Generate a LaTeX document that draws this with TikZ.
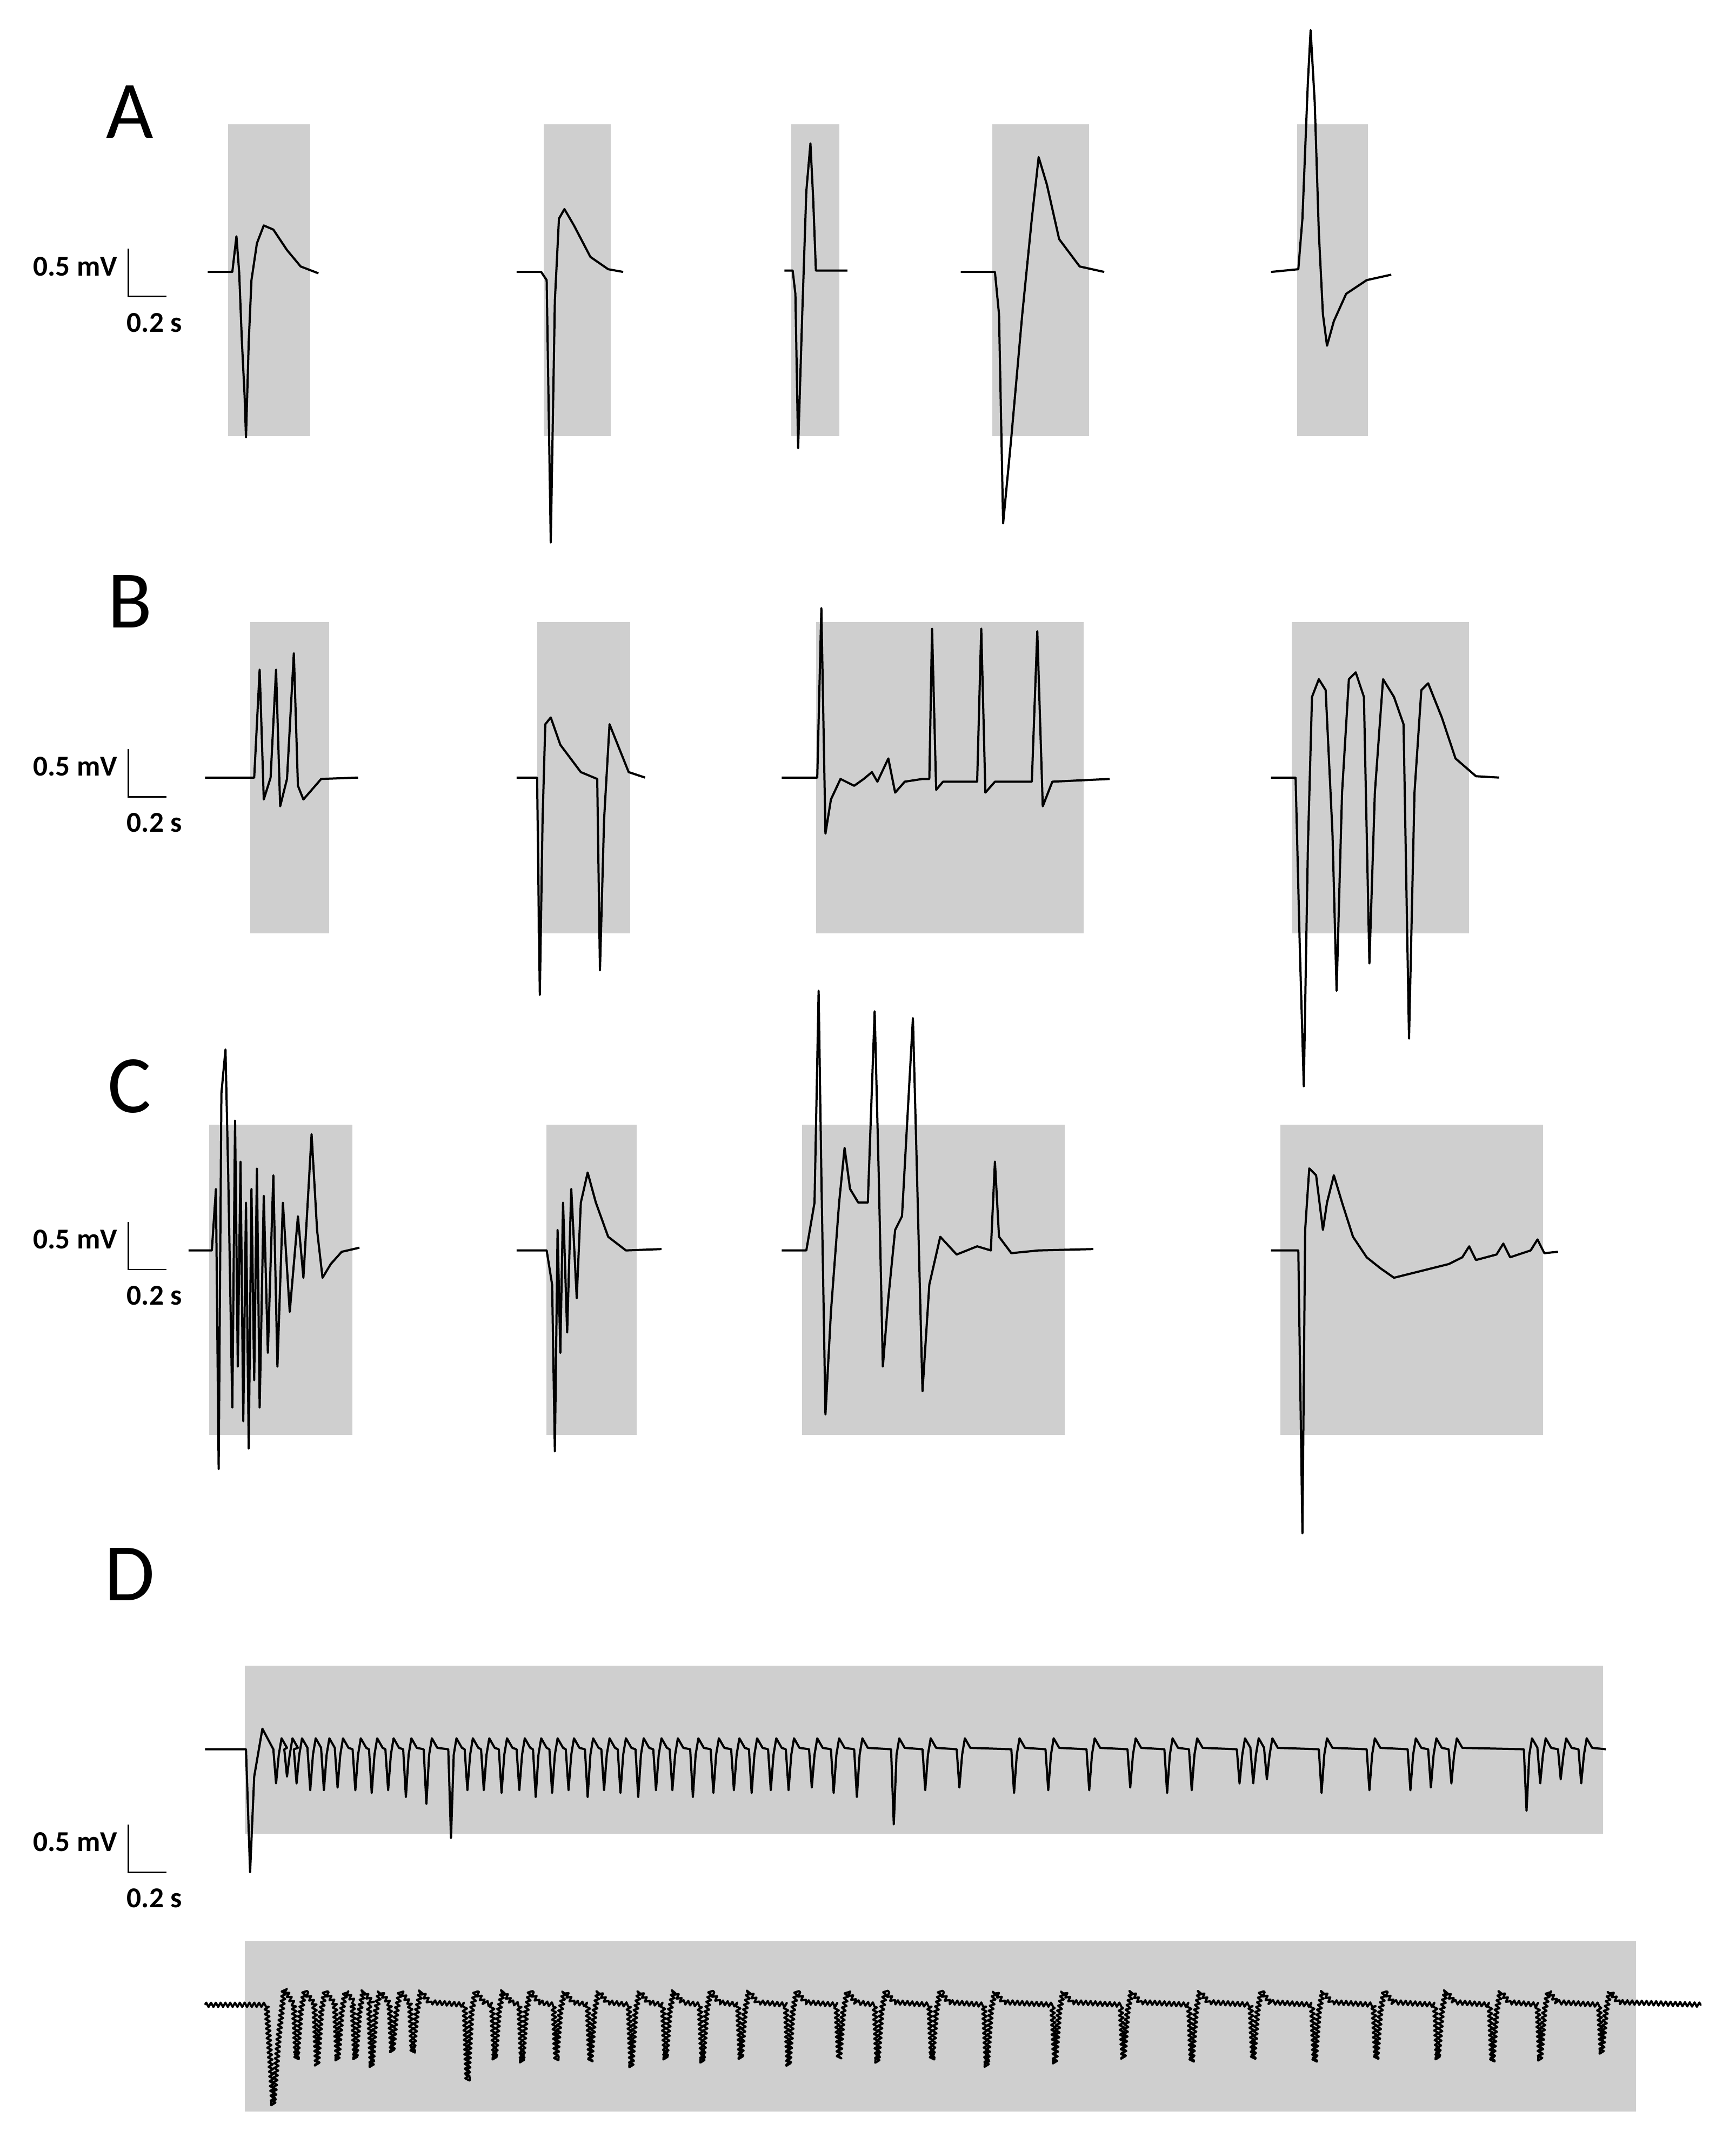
\documentclass[tikz,border=0pt]{standalone}
\usepackage{fontspec}
\setmainfont{Carlito}
\usetikzlibrary{decorations.pathmorphing}
\begin{document}
\begin{tikzpicture}[x=0.02cm,y=-0.02cm,
  trace/.style={black,line width=0.9pt,line join=round},
  noisy/.style={trace,decorate,decoration={zigzag,amplitude=0.9pt,segment length=2pt}},
  box/.style={fill=black!19,draw=none},
  panel/.style={font=\fontsize{34}{34}\selectfont,anchor=center},
  sb/.style={black,line width=0.6pt},
  sbl/.style={font=\bfseries\fontsize{12}{12}\selectfont}]
\useasboundingbox (0,0) rectangle (1270,1574);
\foreach \a/\b/\c/\d in {167/91/227/319,398/91/447/319,579/91/614/319,726/91/797/319,949/91/1001/319,
 183/455/241/683,393/455/461/683,597/455/793/683,945/455/1075/683,
 153/823/258/1050,400/823/466/1050,587/823/779/1050,937/823/1129/1050,
 179/1219/1173/1342,179/1420/1197/1545}
 \fill[box] (\a,\b) rectangle (\c,\d);
\node[panel] (lA) at (95,82) {A};
\node[panel] (lB) at (95,440) {B};
\node[panel] (lC) at (95,795) {C};
\node[panel] (lD) at (95,1152) {D};
\foreach \n/\y in {a/217,b/583,c/929,d/1370}{
 \draw[sb] (94,\y-35) -- (94,\y) -- (122,\y);
 \node[sbl,anchor=east] (mv\n) at (92,\y-22) {0.5 mV};
 \node[sbl] (s\n) at (113,\y+19) {0.2 s};
}
\draw[trace] (152,199)--(170,199)--(173,173)--(175,199)--(177,250)--(179,290)--(180,320)--(182,250)--(184,205)--(188,178)--(193,165)--(200,168)--(210,183)--(220,195)--(233,200);
\draw[trace] (378,199)--(396,199)--(400,205)--(403,397)--(406,220)--(409,160)--(413,153)--(420,165)--(432,188)--(445,197)--(456,199);
\draw[trace] (574,198)--(580,198)--(582,215)--(584,328)--(587,230)--(590,140)--(593,105)--(595,145)--(597,198)--(610,198)--(620,198);
\draw[trace] (703,199)--(728,199)--(731,230)--(734,383)--(740,320)--(748,230)--(755,160)--(760,115)--(766,135)--(775,175)--(790,195)--(808,199);
\draw[trace] (930,199)--(950,197)--(953,160)--(957,60)--(959,22)--(962,75)--(965,170)--(968,230)--(971,253)--(976,235)--(985,215)--(1000,205)--(1018,201);
\draw[trace] (150,569)--(186,569)--(190,490)--(193,585)--(198,569)--(202,490)--(205,590)--(210,570)--(215,478)--(218,575)--(222,585)--(235,570)--(262,569);
\draw[trace] (378,569)--(393,569)--(395,728)--(397,600)--(399,530)--(403,525)--(410,545)--(425,565)--(437,570)--(439,710)--(442,600)--(446,530)--(452,545)--(460,565)--(472,569);
\draw[trace] (572,569)--(598,569)--(601,445)--(604,610)--(608,585)--(615,570)--(625,575)--(632,570)--(638,565)--(642,572)--(650,555)--(655,580)--(662,572)--(675,570)--(680,570)--(682,460)--(685,578)--(690,572)--(715,572)--(718,460)--(721,580)--(728,572)--(755,572)--(759,462)--(763,590)--(770,572)--(812,570);
\draw[trace] (930,569)--(948,569)--(951,690)--(954,795)--(957,620)--(960,510)--(965,497)--(970,505)--(975,610)--(978,725)--(982,580)--(987,497)--(992,492)--(998,510)--(1002,705)--(1006,580)--(1012,497)--(1020,510)--(1027,530)--(1031,760)--(1035,580)--(1040,505)--(1045,500)--(1055,525)--(1065,555)--(1080,568)--(1097,569);
\draw[trace] (138,915)--(155,915)--(158,870)--(160,1075)--(162,800)--(165,768)--(167,860)--(170,1030)--(172,820)--(174,1000)--(176,850)--(178,1040)--(180,880)--(182,1060)--(184,870)--(186,1010)--(188,855)--(190,1030)--(193,875)--(196,990)--(200,860)--(203,1000)--(207,880)--(212,960)--(218,890)--(222,935)--(228,830)--(232,900)--(236,935)--(242,925)--(250,916)--(263,913);
\draw[trace] (378,915)--(400,915)--(404,940)--(406,1062)--(408,900)--(410,990)--(412,880)--(415,975)--(418,870)--(422,950)--(425,880)--(430,858)--(436,880)--(445,905)--(458,915)--(484,914);
\draw[trace] (572,915)--(590,915)--(596,880)--(599,725)--(601,860)--(604,1035)--(608,960)--(614,880)--(618,840)--(622,870)--(628,880)--(635,880)--(640,740)--(643,860)--(646,1000)--(650,950)--(655,900)--(660,890)--(668,745)--(671,860)--(675,1018)--(680,940)--(688,905)--(700,918)--(715,912)--(725,915)--(728,850)--(731,905)--(740,917)--(760,915)--(800,914);
\draw[trace] (930,915)--(950,915)--(953,1122)--(955,900)--(958,855)--(963,860)--(968,900)--(971,880)--(976,860)--(982,880)--(990,905)--(1000,920)--(1010,928)--(1020,935)--(1040,930)--(1060,925)--(1070,920)--(1075,912)--(1080,922)--(1095,918)--(1100,910)--(1105,920)--(1120,915)--(1125,907)--(1130,917)--(1140,916);
\draw[trace] (150,1280)--(180,1280)--(183,1370)--(186,1300)--(192,1265)
 \foreach \x/\d in {200/25,208/20,215/25,225/30,235/30,245/28,258/30,270/32,282/30,295/35,310/40,328/65,340/30,352/30,365/32,378/30,390/35,402/32,414/30,428/35,440/30,452/32,465/35,478/30,490/30,505/35,520/32,535/30,548/32,562/30,575/30,592/28,608/32,625/35,652/55,675/30,700/28,740/32,765/30,795/30,825/28,852/32,870/30,905/25,915/25,925/22,965/32,1000/30,1030/30,1045/28,1060/25,1115/45,1125/25,1140/22,1155/25}
 { --(\x,1280)--(\x+2,1280+\d)--(\x+4,1284)--(\x+6,1272)--(\x+10,1279) }
 --(1175,1280);
\draw[noisy] (150,1467)--(195,1467)--(200,1540)--(204,1490)--(208,1455)
 \foreach \x/\d in {215/40,230/45,245/40,258/40,270/45,285/35,300/35,340/55,360/40,380/42,405/40,430/42,460/45,485/40,512/42,540/40,575/45,612/40,640/42,680/40,720/45,770/42,820/40,870/42,915/40,960/42,1005/40,1050/40,1090/42,1125/40,1170/35}
 { --(\x,1467)--(\x+2,1467+\d)--(\x+5,1472)--(\x+8,1457)--(\x+14,1465) }
 --(1245,1467);
\end{tikzpicture}
\end{document}
